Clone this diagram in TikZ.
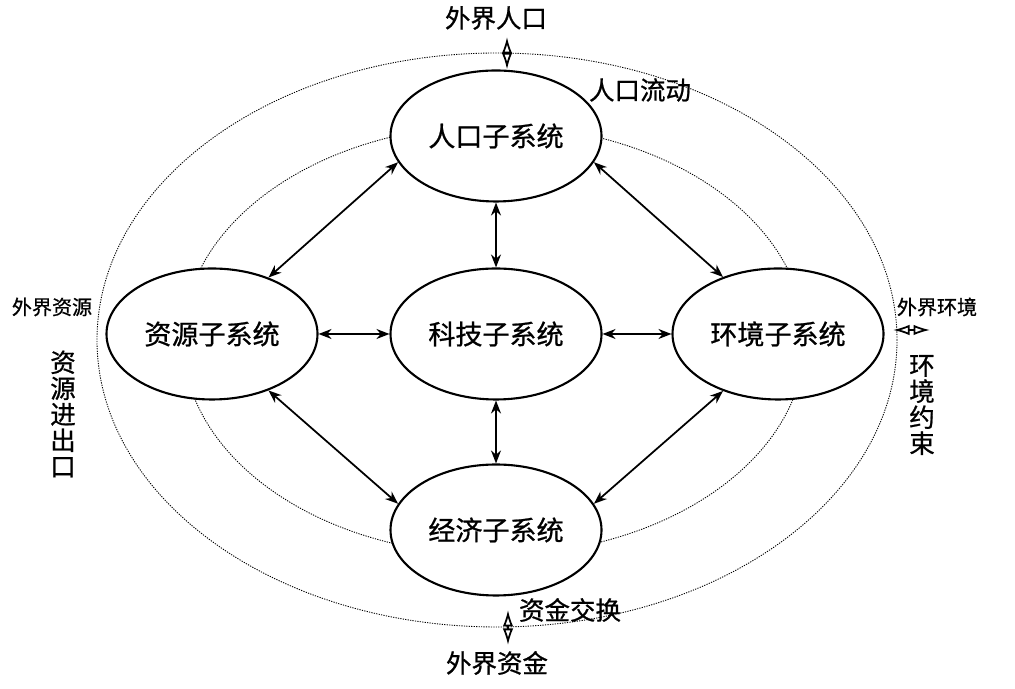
\documentclass[tikz,border=0pt]{standalone}
\usepackage{fontspec}
\newfontfamily\cjk[FakeBold=0.8]{Noto Sans CJK SC}
\usepackage{tikz}
\usetikzlibrary{arrows.meta,calc,positioning,shapes.geometric}

\begin{document}
\begin{tikzpicture}[
  sub/.style={ellipse,draw,line width=1.2pt,fill=white,minimum width=4.22cm,minimum height=2.62cm,inner sep=0pt,font=\cjk\fontsize{15.4}{16}\selectfont},
  link/.style={{Stealth[length=2.6mm,width=2mm]}-{Stealth[length=2.6mm,width=2mm]},line width=1pt},
  lens/.style={{Latex[open,length=3.3mm,width=2.1mm]}-{Latex[open,length=3.3mm,width=2.1mm]},line width=1pt},
  ring/.style={line width=0.5pt,dash pattern=on 0.7pt off 0.7pt},
  outlbl/.style={font=\cjk\fontsize{14.5}{14.8}\selectfont,inner sep=0pt,align=center},
  sidelbl/.style={font=\cjk\fontsize{11.4}{12}\selectfont,inner sep=0pt}]
\useasboundingbox (0,0) rectangle (20.3,13.78);
\draw[ring] (9.94,6.98) ellipse (8.0 and 5.74);
\draw[ring] (9.88,6.98) ellipse (6.22 and 4.30);
\node[sub] (renkou) at (9.92,11.06) {人口子系统};
\node[sub] (ziyuan) at (4.24,7.10) {资源子系统};
\node[sub] (keji) at (9.92,7.10) {科技子系统};
\node[sub] (huanjing) at (15.56,7.10) {环境子系统};
\node[sub] (jingji) at (9.92,3.18) {经济子系统};
\draw[link] (renkou.south) -- (keji.north);
\draw[link] (keji.south) -- (jingji.north);
\draw[link] (ziyuan.east) -- (keji.west);
\draw[link] (keji.east) -- (huanjing.west);
\draw[link] (renkou.195) -- (ziyuan.45);
\draw[link] (renkou.-15) -- (huanjing.134);
\draw[link] (ziyuan.-45) -- (jingji.165);
\draw[link] (huanjing.226) -- (jingji.15);
\coordinate (popout) at (10.14,13.04);
\coordinate (envin) at (17.86,7.18);
\coordinate (envout) at (18.6,7.18);
\coordinate (capin) at (10.16,1.58);
\coordinate (capout) at (10.16,0.88);
\draw[lens] (popout) -- (popout |- renkou.north);
\draw[lens] (envin) -- (envout);
\draw[lens] (capin) -- (capout);
\node[outlbl] (wpop) at (9.92,13.42) {外界人口};
\node[outlbl] (popflow) at (12.8,11.98) {人口流动};
\node[sidelbl] (wenv) at (18.74,7.64) {外界环境};
\node[outlbl] (envlim) at (18.44,5.68) {环\\境\\约\\束};
\node[sidelbl] (wres) at (1.04,7.64) {外界资源};
\node[outlbl] (restrade) at (1.26,5.50) {资\\源\\进\\出\\口};
\node[outlbl] (capflow) at (11.4,1.58) {资金交换};
\node[outlbl] (wcap) at (9.94,0.52) {外界资金};
\end{tikzpicture}
\end{document}
